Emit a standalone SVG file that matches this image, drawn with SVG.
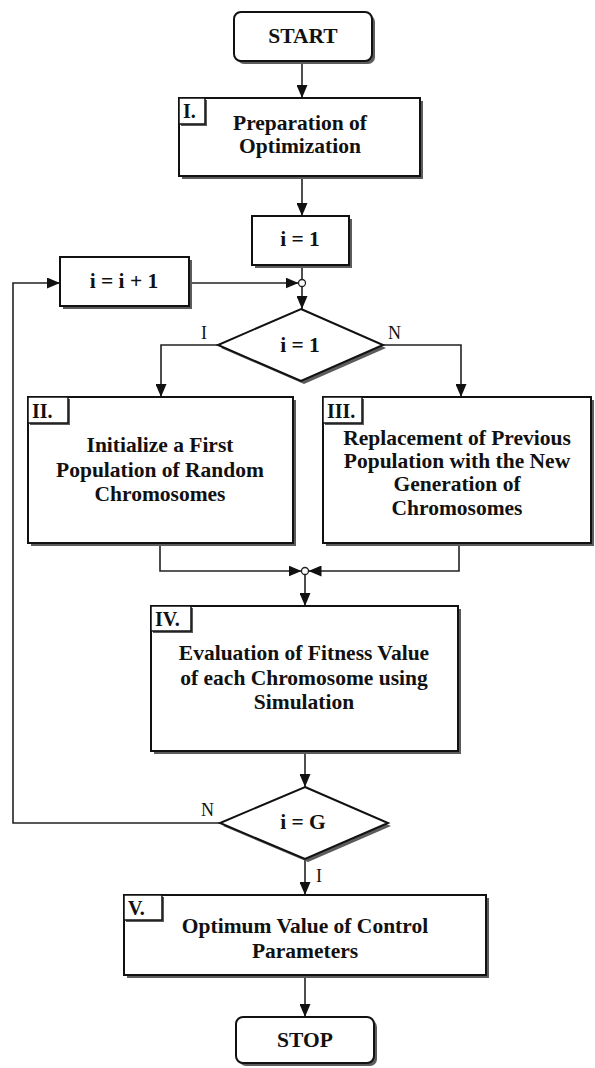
<svg xmlns="http://www.w3.org/2000/svg" width="595" height="1068" viewBox="0 0 595 1068">
  <defs>
    <marker id="arrow" viewBox="0 0 13 11" refX="13" refY="5.5" markerWidth="13" markerHeight="11" markerUnits="userSpaceOnUse" orient="auto">
      <path d="M0,0 L13,5.5 L0,11 Z" fill="#111"/>
    </marker>
    <style>
      .box { fill: #fff; stroke: #111; stroke-width: 2; }
      .shadow { fill: #5c5c5c; }
      .tag { fill: #fff; stroke: #111; stroke-width: 1.5; }
      .txt { font-family: "Liberation Serif", "Times New Roman", serif; font-weight: bold; font-size: 21.5px; fill: #111; text-anchor: middle; }
      .tagtxt { font-family: "Liberation Serif", "Times New Roman", serif; font-weight: bold; font-size: 20px; fill: #111; }
      .lbl { font-family: "Liberation Serif", "Times New Roman", serif; font-size: 18px; fill: #111; }
      .line { fill: none; stroke: #222; stroke-width: 1.6; }
      .dot { fill: #fff; stroke: #222; stroke-width: 1.3; }
    </style>
  </defs>
  <rect width="595" height="1068" fill="#fff"/>

  <!-- connectors -->
  <g id="connectors">
    <path class="line" d="M302,61 V98" marker-end="url(#arrow)"/>
    <path class="line" d="M302,176 V216" marker-end="url(#arrow)"/>
    <path class="line" d="M302,265 V279.5"/>
    <path class="line" d="M189,283 H298.5" marker-end="url(#arrow)"/>
    <path class="line" d="M302,286.5 V309" marker-end="url(#arrow)"/>
    <path class="line" d="M218,345 H161 V397" marker-end="url(#arrow)"/>
    <path class="line" d="M383,345 H461 V397" marker-end="url(#arrow)"/>
    <path class="line" d="M160,543 V571 H301.5" marker-end="url(#arrow)"/>
    <path class="line" d="M459,543 V571 H308.5" marker-end="url(#arrow)"/>
    <path class="line" d="M305,574.5 V606" marker-end="url(#arrow)"/>
    <path class="line" d="M305,751 V787" marker-end="url(#arrow)"/>
    <path class="line" d="M220,823 H13 V283 H60" marker-end="url(#arrow)"/>
    <path class="line" d="M305,859 V895" marker-end="url(#arrow)"/>
    <path class="line" d="M305,975 V1017" marker-end="url(#arrow)"/>
    <circle class="dot" cx="302" cy="283" r="3.5"/>
    <circle class="dot" cx="305" cy="571" r="3.5"/>
    <text class="lbl" x="201" y="339">I</text>
    <text class="lbl" x="388" y="339">N</text>
    <text class="lbl" x="201" y="816">N</text>
    <text class="lbl" x="316" y="882">I</text>
  </g>

  <g id="start">
    <rect class="shadow" x="237" y="15" width="138" height="49" rx="7"/>
    <rect class="box" x="234" y="12" width="138" height="49" rx="7"/>
    <text class="txt" x="303" y="43">START</text>
  </g>

  <g id="prep">
    <rect class="shadow" x="182" y="101" width="241" height="78"/>
    <rect class="box" x="179" y="98" width="241" height="78"/>
    <rect class="shadow" x="181" y="100" width="26" height="26"/>
    <rect class="tag" x="179" y="98" width="26" height="26"/>
    <text class="tagtxt" x="183" y="118">I.</text>
    <text class="txt" x="300" y="130">Preparation of</text>
    <text class="txt" x="300" y="153">Optimization</text>
  </g>

  <g id="init-i">
    <rect class="shadow" x="255" y="219" width="97" height="49"/>
    <rect class="box" x="252" y="216" width="97" height="49"/>
    <text class="txt" x="300" y="246">i = 1</text>
  </g>

  <g id="incr-i">
    <rect class="shadow" x="63" y="260" width="129" height="49"/>
    <rect class="box" x="60" y="257" width="129" height="49"/>
    <text class="txt" x="124" y="288">i = i + 1</text>
  </g>

  <g id="check-first">
    <polygon class="shadow" points="304,312 386,348 304,384 221,348"/>
    <polygon class="box" points="301,309 383,345 301,381 218,345"/>
    <text class="txt" x="300" y="352">i = 1</text>
  </g>

  <g id="init-pop">
    <rect class="shadow" x="31" y="400" width="265" height="146"/>
    <rect class="box" x="28" y="397" width="265" height="146"/>
    <rect class="shadow" x="30" y="399" width="40" height="26"/>
    <rect class="tag" x="28" y="397" width="40" height="26"/>
    <text class="tagtxt" x="32" y="418">II.</text>
    <text class="txt" x="160" y="452">Initialize a First</text>
    <text class="txt" x="160" y="477">Population of Random</text>
    <text class="txt" x="160" y="501">Chromosomes</text>
  </g>

  <g id="replace-pop">
    <rect class="shadow" x="326" y="400" width="268" height="146"/>
    <rect class="box" x="323" y="397" width="268" height="146"/>
    <rect class="shadow" x="325" y="399" width="39" height="26"/>
    <rect class="tag" x="323" y="397" width="39" height="26"/>
    <text class="tagtxt" x="327" y="418">III.</text>
    <text class="txt" x="457" y="445">Replacement of Previous</text>
    <text class="txt" x="457" y="468">Population with the New</text>
    <text class="txt" x="457" y="491">Generation of</text>
    <text class="txt" x="457" y="515">Chromosomes</text>
  </g>

  <g id="evaluate">
    <rect class="shadow" x="154" y="609" width="307" height="145"/>
    <rect class="box" x="151" y="606" width="307" height="145"/>
    <rect class="shadow" x="153" y="608" width="40" height="25"/>
    <rect class="tag" x="151" y="606" width="40" height="25"/>
    <text class="tagtxt" x="155" y="626">IV.</text>
    <text class="txt" x="304" y="660">Evaluation of Fitness Value</text>
    <text class="txt" x="304" y="685">of each Chromosome using</text>
    <text class="txt" x="304" y="709">Simulation</text>
  </g>

  <g id="check-last">
    <polygon class="shadow" points="308,790 391,826 308,862 223,826"/>
    <polygon class="box" points="305,787 388,823 305,859 220,823"/>
    <text class="txt" x="303" y="829">i = G</text>
  </g>

  <g id="optimum">
    <rect class="shadow" x="127" y="898" width="362" height="80"/>
    <rect class="box" x="124" y="895" width="362" height="80"/>
    <rect class="shadow" x="126" y="897" width="38" height="25"/>
    <rect class="tag" x="124" y="895" width="38" height="25"/>
    <text class="tagtxt" x="128" y="915">V.</text>
    <text class="txt" x="305" y="933">Optimum Value of Control</text>
    <text class="txt" x="305" y="958">Parameters</text>
  </g>

  <g id="stop">
    <rect class="shadow" x="239" y="1020" width="138" height="46" rx="7"/>
    <rect class="box" x="236" y="1017" width="138" height="46" rx="7"/>
    <text class="txt" x="305" y="1047">STOP</text>
  </g>
</svg>
